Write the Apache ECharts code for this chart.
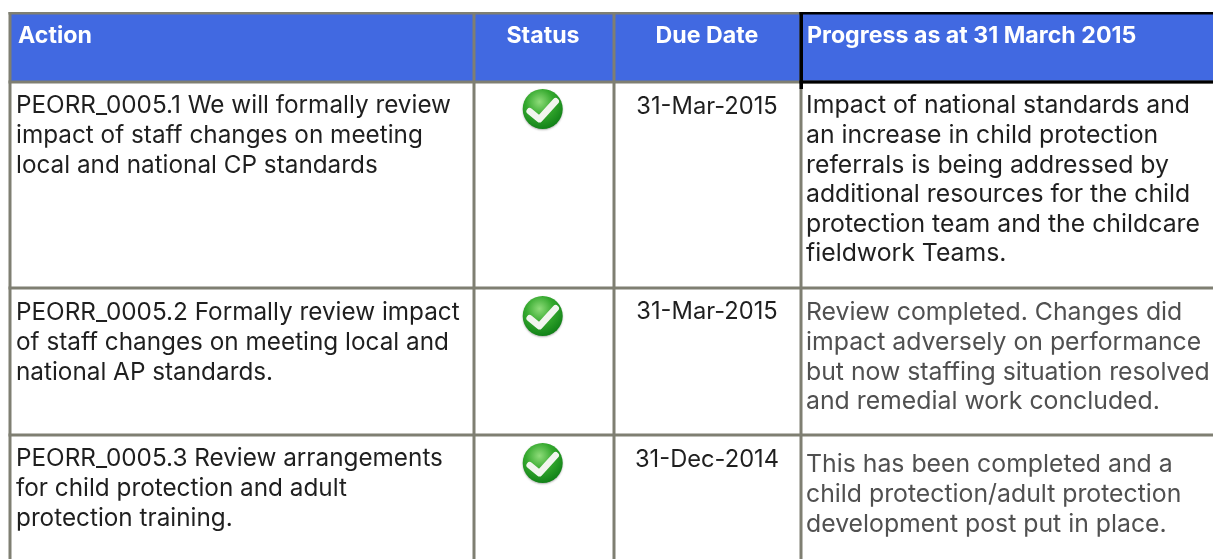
<!DOCTYPE html>
<html>
<head>
<meta charset="utf-8">
<style>html,body{margin:0;padding:0;background:#fff}#c{width:1213px;height:559px}</style>
<script src="https://cdn.jsdelivr.net/npm/echarts@6/dist/echarts.min.js"></script>
</head>
<body>
<div id="c"></div>
<script>
const headers = ['Action', 'Status', 'Due Date', 'Progress as at 31 March 2015'];
const actions = [
  ['PEORR_0005.1 We will formally review', 'impact of staff changes on meeting', 'local and national CP standards'],
  ['PEORR_0005.2 Formally review impact', 'of staff changes on meeting local and', 'national AP standards.'],
  ['PEORR_0005.3 Review arrangements', 'for child protection and adult', 'protection training.']
];
const statuses = ['complete', 'complete', 'complete'];
const dueDates = ['31-Mar-2015', '31-Mar-2015', '31-Dec-2014'];
const progress = [
  ['Impact of national standards and', 'an increase in child protection', 'referrals is being addressed by', 'additional resources for the child', 'protection team and the childcare', 'fieldwork Teams.'],
  ['Review completed. Changes did', 'impact adversely on performance', 'but now staffing situation resolved', 'and remedial work concluded.'],
  ['This has been completed and a', 'child protection/adult protection', 'development post put in place.']
];

// Layout (page pixels, mapped through the hidden value axes)
const W = 1213, H = 559;
const colLines = [10, 474, 614, 801];
const headTop = 13, headBottom = 82;
const rowLines = [82, 288, 435];
const rowLayout = [
  {action: 106, icon: 109, date: 107, prog: 106},
  {action: 313, icon: 316, date: 312, prog: 313},
  {action: 459, icon: 463, date: 460, prog: 465}
];
const pitch = 29.6;
const FONT = 'Inter, "Open Sans", sans-serif';
const GREY = '#7f7f72', BLUE = '#4169e1';
const bodyFont = '24.3px ' + FONT, progFont = '24.8px ' + FONT, dateFont = '23.7px ' + FONT, headFont = 'bold 23.2px ' + FONT;

function renderCell(params, api) {
  const P = (x, y) => api.coord([x, y]);
  const kids = [];
  const rect = (x0, y0, x1, y1, fill) => {
    const a = P(x0, y0), b = P(x1, y1);
    kids.push({type: 'rect', shape: {x: a[0], y: a[1], width: b[0] - a[0], height: b[1] - a[1]}, style: {fill}});
  };
  const text = (x, y, s, font, fill, align) => {
    const a = P(x, y);
    kids.push({type: 'text', style: {x: a[0], y: a[1], text: s, font, fill, align: align || 'left', verticalAlign: 'middle'}});
  };
  const i = params.dataIndex;
  if (i === 0) { // frame and header
    rect(colLines[0], headTop, W, headBottom, BLUE);
    text(18, 36.5, headers[0], headFont, '#fff');
    text(543, 36.5, headers[1], headFont, '#fff', 'center');
    text(707, 36.5, headers[2], headFont, '#fff', 'center');
    text(807, 36.5, headers[3], headFont, '#fff');
    colLines.forEach(x => rect(x - 1.5, headTop - 1, x + 1.5, H, GREY));
    rect(colLines[0] - 1.5, headTop - 1, 801, headTop + 1.5, GREY);
    rowLines.forEach(y => rect(colLines[0] - 1.5, y - 1.5, W, y + 1.5, GREY));
    rect(799.5, headTop - 1, W, headTop + 1.5, '#000');
    rect(799.5, headBottom - 1.5, W, headBottom + 1.5, '#000');
    rect(799.5, headTop - 1, 803, 89, '#000');
  }
  const L = rowLayout[i];
  actions[i].forEach((s, k) => text(16, L.action + k * pitch, s, bodyFont, '#1f1f1f'));
  text(707, L.date, dueDates[i], dateFont, '#1f1f1f', 'center');
  const progColor = i === 0 ? '#1f1f1f' : '#505050';
  progress[i].forEach((s, k) => text(806, L.prog + k * pitch, s, progFont, progColor));
  if (statuses[i] === 'complete') {
    const c = P(542.7, L.icon);
    kids.push({type: 'circle', shape: {cx: c[0], cy: c[1], r: 20}, style: {
      fill: {type: 'radial', x: 0.42, y: 0.32, r: 0.75, colorStops: [
        {offset: 0, color: '#8fdc7a'}, {offset: 0.45, color: '#35a92e'}, {offset: 1, color: '#0b7a14'}]},
      shadowBlur: 2, shadowColor: 'rgba(0,0,0,0.3)', shadowOffsetY: 1}});
    kids.push({type: 'polyline', shape: {points: [[c[0] - 13, c[1] + 2.3], [c[0] - 3.3, c[1] + 10.2], [c[0] + 13, c[1] - 7.7]]},
      style: {stroke: '#f2f5ef', lineWidth: 6.5, fill: 'none', lineCap: 'round', lineJoin: 'round'}});
  }
  return {type: 'group', children: kids};
}

const chart = echarts.init(document.getElementById('c'), null, {renderer: 'canvas'});
chart.setOption({
  animation: false,
  backgroundColor: '#fff',
  grid: {left: 0, right: 0, top: 0, bottom: 0},
  xAxis: {type: 'value', min: 0, max: W, show: false},
  yAxis: {type: 'value', min: 0, max: H, inverse: true, show: false},
  series: [{type: 'custom', silent: true, clip: false, renderItem: renderCell,
    data: actions.map((a, i) => [i, 0])}]
});
</script>
</body>
</html>
